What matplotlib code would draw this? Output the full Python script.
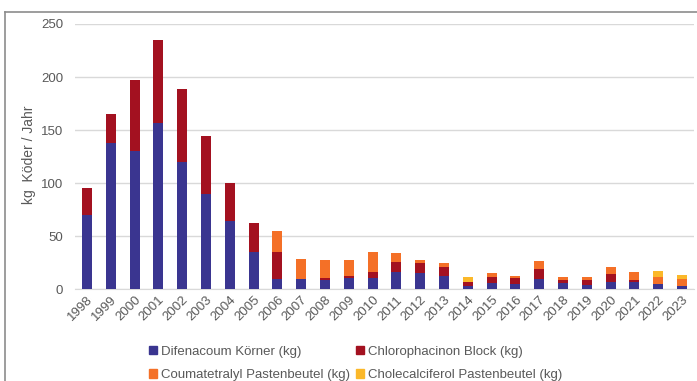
import numpy as np
import matplotlib.pyplot as plt
from matplotlib.patches import Patch
from matplotlib.lines import Line2D

plt.rcParams['font.family'] = ['Liberation Sans', 'DejaVu Sans']

years = [str(y) for y in range(1998, 2024)]
difenacoum = [70, 138, 130, 157, 120, 90, 64, 35, 10, 10, 9, 11, 11, 16, 15, 13,
              3, 6, 5, 10, 6, 4, 7, 7, 5, 3]
chlorophacinon = [25, 27, 67, 78, 69, 54, 36, 27.5, 25, 0, 2, 2, 5, 10, 10, 8,
                  3.5, 5.3, 5.3, 9, 2.7, 5, 7.5, 1.9, 0, 0]
coumatetralyl = [0, 0, 0, 0, 0, 0, 0, 0, 20, 18.6, 17, 15, 19.5, 8, 2.2, 4.2,
                 0.5, 4.1, 2.5, 7.8, 2.6, 2.2, 6.6, 7.2, 6.9, 6.7]
cholecalciferol = [0] * 16 + [4.7] + [0] * 7 + [5.4, 3.8]

labels = ["Difenacoum Körner (kg)", "Chlorophacinon Block (kg)",
          "Coumatetralyl Pastenbeutel (kg)", "Cholecalciferol Pastenbeutel (kg)"]
colors = ["#3A3590", "#A31120", "#F47027", "#FBB829"]
series = [difenacoum, chlorophacinon, coumatetralyl, cholecalciferol]

fig = plt.figure(figsize=(6.97, 3.81), dpi=100)
ax = fig.add_axes([75 / 697, 1 - 289.3 / 381, 619 / 697, (289.3 - 24) / 381])

x = np.arange(len(years))
bottom = np.zeros(len(years))
for vals, col in zip(series, colors):
    ax.bar(x, vals, width=0.42, bottom=bottom, color=col, zorder=3)
    bottom += np.array(vals)

ax.set_xlim(-0.5, len(years) - 0.5)
ax.set_ylim(0, 250)
ax.set_yticks(range(0, 251, 50))
ax.grid(axis='y', color='#d9d9d9', lw=1, zorder=0)
for s in ['top', 'right', 'left']:
    ax.spines[s].set_visible(False)
ax.spines['bottom'].set_color('#d9d9d9')
ax.tick_params(length=0, colors='#595959', labelsize=9.5)
ax.tick_params(axis='y', pad=8.5)
ax.set_xticks(x)
ax.set_xticklabels(years, rotation=45, ha='right', rotation_mode='anchor')

fig.text(29 / 697, 1 - 155 / 381, "kg  Köder / Jahr", rotation=90, color='#595959',
         fontsize=10, ha='center', va='center')

# chart frame (left and top edge)
fig.add_artist(Line2D([4.5 / 697, 4.5 / 697], [0, 1 - 12 / 381], color='#8c8c8c', lw=1.2,
                      transform=fig.transFigure))
fig.add_artist(Line2D([4.5 / 697, 1], [1 - 12 / 381, 1 - 12 / 381], color='#8c8c8c', lw=1.2,
                      transform=fig.transFigure))

handles = [Patch(color=c, label=l) for c, l in zip(colors, labels)]
order = [0, 2, 1, 3]
leg = fig.legend([handles[i] for i in order], [labels[i] for i in order], ncol=2,
                 loc='upper left', bbox_to_anchor=(137 / 697, 1 - 334 / 381),
                 frameon=False, fontsize=9.5, handlelength=0.6, handleheight=0.6,
                 handletextpad=0.3, columnspacing=0.45, labelspacing=0.85,
                 labelcolor='#595959')

fig.savefig('out.png', dpi=100)
